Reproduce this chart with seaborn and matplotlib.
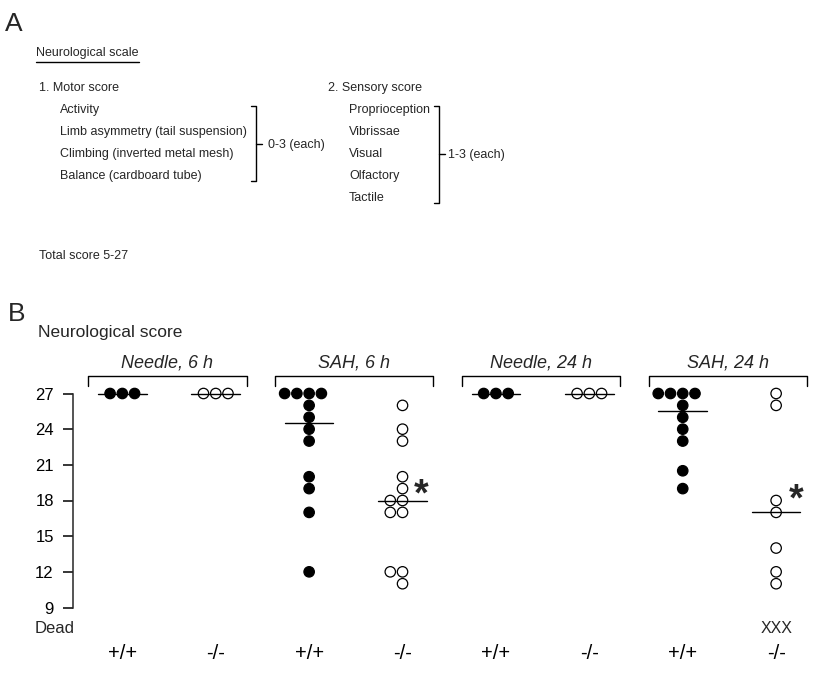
import numpy as np
import pandas as pd
import seaborn as sns
import matplotlib.pyplot as plt
from matplotlib import font_manager
from matplotlib.lines import Line2D

# ---------------- data ----------------
groups = ["Needle, 6 h", "SAH, 6 h", "Needle, 24 h", "SAH, 24 h"]
genotypes = ["+/+", "-/-"]
needle6_wt = [27, 27, 27]
needle6_ko = [27, 27, 27]
sah6_wt = [27, 27, 27, 27, 26, 25, 24, 23, 20, 19, 17, 12]
sah6_ko = [26, 24, 23, 20, 19, 18, 18, 17, 17, 12, 12, 11]
needle24_wt = [27, 27, 27]
needle24_ko = [27, 27, 27]
sah24_wt = [27, 27, 27, 27, 26, 25, 24, 23, 20.5, 19]
sah24_ko = [27, 26, 18, 17, 14, 12, 11]
dead_marks = ["", "", "", "", "", "", "", "XXX"]
significant = [False, False, False, True, False, False, False, True]
y_ticks = [9, 12, 15, 18, 21, 24, 27]

series = [needle6_wt, needle6_ko, sah6_wt, sah6_ko,
          needle24_wt, needle24_ko, sah24_wt, sah24_ko]

# ---------------- style ----------------
sns.set_theme(style="ticks")
plt.rcParams["font.family"] = ["Liberation Sans", "DejaVu Sans"]
plt.rcParams["axes.linewidth"] = 1.1

W, H = 816, 678
fig = plt.figure(figsize=(W / 100, H / 100), dpi=100)
fig.patch.set_facecolor("white")


def fx(x):
    return x / W


def fy(y):
    return 1 - y / H


names = {f.name for f in font_manager.fontManager.ttflist}
if "Liberation Sans Narrow" in names:
    a_family, a_size = ["Liberation Sans Narrow", "DejaVu Sans"], 10.7
else:
    a_family, a_size = ["Liberation Sans", "DejaVu Sans"], 9.0

# ---------------- panel A ----------------
fig.text(fx(5), fy(24), "A", fontsize=19, ha="left", va="center")
title_a = fig.text(fx(36), fy(53), "Neurological scale", family=a_family,
                   fontsize=a_size, ha="left", va="center")

motor_items = ["Activity", "Limb asymmetry (tail suspension)",
               "Climbing (inverted metal mesh)", "Balance (cardboard tube)"]
sensory_items = ["Proprioception", "Vibrissae", "Visual", "Olfactory", "Tactile"]

fig.text(fx(39), fy(88), "1. Motor score", family=a_family, fontsize=a_size,
         ha="left", va="center")
for i, t in enumerate(motor_items):
    fig.text(fx(60), fy(110 + 22 * i), t, family=a_family, fontsize=a_size,
             ha="left", va="center")
fig.text(fx(328), fy(88), "2. Sensory score", family=a_family, fontsize=a_size,
         ha="left", va="center")
for i, t in enumerate(sensory_items):
    fig.text(fx(349), fy(110 + 22 * i), t, family=a_family, fontsize=a_size,
             ha="left", va="center")


def fig_bracket(x, y0, y1, ym, left=5, right=6):
    xs = [fx(x - left), fx(x), fx(x), fx(x - left)]
    ys = [fy(y0), fy(y0), fy(y1), fy(y1)]
    fig.add_artist(Line2D(xs, ys, color="black", lw=1.0))
    fig.add_artist(Line2D([fx(x), fx(x + right)], [fy(ym), fy(ym)],
                          color="black", lw=1.0))


fig_bracket(256, 106, 181, 144)
fig.text(fx(268), fy(145), "0-3 (each)", family=a_family, fontsize=a_size,
         ha="left", va="center")
fig_bracket(439, 106, 203, 154)
fig.text(fx(448), fy(155), "1-3 (each)", family=a_family, fontsize=a_size,
         ha="left", va="center")
fig.text(fx(39), fy(256), "Total score 5-27", family=a_family, fontsize=a_size,
         ha="left", va="center")

# ---------------- panel B ----------------
fig.text(fx(8), fy(314), "B", fontsize=19, ha="left", va="center")
fig.text(fx(38), fy(333), "Neurological score", fontsize=12.5, ha="left",
         va="center")

ax_left, ax_right = 73.3, 810
ax_top, ax_bot = 393.5, 607.5
ax = fig.add_axes([fx(ax_left), fy(ax_bot), (ax_right - ax_left) / W,
                   (ax_bot - ax_top) / H])
ax.set_facecolor("none")

slots = [f"{g}|{gt}" for g in groups for gt in genotypes]
rows = []
for slot, vals in zip(slots, series):
    gt = slot.split("|")[1]
    for v in vals:
        rows.append({"slot": slot, "genotype": gt, "score": v})
df = pd.DataFrame(rows)

x0, x1 = -0.525, -0.525 + (ax_right - ax_left) / 93.4
ax.set_xlim(x0, x1)
ax.set_ylim(9, 27)

sns.swarmplot(data=df, x="slot", y="score", hue="genotype", order=slots,
              hue_order=genotypes, palette={"+/+": "black", "-/-": "white"},
              size=7.5, linewidth=0.9, edgecolor="black", legend=False, ax=ax)
for c in ax.collections:
    c.set_clip_on(False)
    c.set_zorder(3)

ax.set_xlim(x0, x1)
ax.set_ylim(9, 27)

# medians
for i, vals in enumerate(series):
    m = np.median(vals)
    ax.plot([i - 0.26, i + 0.26], [m, m], color="black", lw=1.0,
            clip_on=False, zorder=4)

# significance stars (baseline placement)
star_pos = {3: (3.20, 17.6), 7: (7.21, 17.2)}
for i, sig in enumerate(significant):
    if sig:
        sx, sy = star_pos[i]
        ax.text(sx, sy, "*", fontsize=27, fontweight="heavy", ha="center",
                va="baseline", clip_on=False,
                family=["Liberation Sans", "DejaVu Sans"])

# dead marks
for i, t in enumerate(dead_marks):
    if t:
        ax.text(i, 7.2, t, fontsize=11.5, ha="center", va="center")
ax.text(-0.515, 7.2, "Dead", fontsize=12, ha="right", va="center")

# group brackets and labels
br_y, br_tip = 28.5, 27.65
for k, g in enumerate(groups):
    a, b = 2 * k - 0.365, 2 * k + 1.33
    ax.plot([a, a, b, b], [br_tip, br_y, br_y, br_tip], color="black", lw=1.0,
            clip_on=False)
    ax.text((a + b) / 2, 29.6, g, fontsize=13, style="italic", ha="center",
            va="center")

# axes styling
for s in ["top", "right", "bottom"]:
    ax.spines[s].set_visible(False)
ax.spines["left"].set_bounds(9, 27)
ax.set_yticks(y_ticks)
ax.set_yticklabels([str(t) for t in y_ticks], fontsize=12)
ax.tick_params(axis="y", length=7, width=1.1, pad=7, colors="black")
ax.set_xticks(range(len(slots)))
ax.set_xticklabels([s.split("|")[1] for s in slots], fontsize=14.5)
ax.tick_params(axis="x", length=0, pad=26, colors="black")
ax.set_xlabel("")
ax.set_ylabel("")

# underline for the panel A title
fig.canvas.draw()
bb = title_a.get_window_extent(fig.canvas.get_renderer())
fig.add_artist(Line2D([bb.x0 / W, bb.x1 / W], [fy(62), fy(62)],
                      color="black", lw=1.0))

fig.savefig("out.png", dpi=100, facecolor="white")
